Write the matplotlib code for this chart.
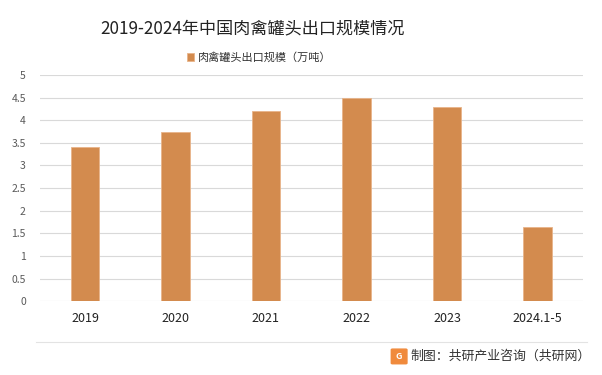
import matplotlib

matplotlib.use("Agg")
import matplotlib.pyplot as plt
from matplotlib.patches import FancyBboxPatch
from matplotlib.lines import Line2D

plt.rcParams["font.family"] = ["Noto Sans CJK SC", "DejaVu Sans"]

# Datos
categories = ["2019", "2020", "2021", "2022", "2023", "2024.1-5"]
values = [3.4, 3.75, 4.2, 4.5, 4.3, 1.65]
yticks = [0, 0.5, 1, 1.5, 2, 2.5, 3, 3.5, 4, 4.5, 5]
ytick_labels = ["0", "0.5", "1", "1.5", "2", "2.5", "3", "3.5", "4", "4.5", "5"]

TITLE = "2019-2024年中国肉禽罐头出口规模情况"
SERIES = "肉禽罐头出口规模（万吨）"
SOURCE = "制图：共研产业咨询（共研网）"
BAR = "#D38B4E"

fig = plt.figure(figsize=(6.02, 3.75), dpi=100)
ax = fig.add_axes([0.066, 0.197, 0.902, 0.603])

x = range(len(categories))
ax.bar(x, values, width=0.31, color=BAR, edgecolor="#E8B48A", linewidth=0.6,
       label=SERIES, zorder=3)

ax.set_ylim(0, 5)
ax.set_xlim(-0.5, len(categories) - 0.5)
ax.set_yticks(yticks)
ax.set_yticklabels(ytick_labels, fontsize=7.5, color="#595959")
ax.set_xticks(list(x))
ax.set_xticklabels(categories, fontsize=9, color="#222222")
ax.tick_params(axis="both", length=0)
ax.tick_params(axis="x", pad=8)
ax.tick_params(axis="y", pad=10)
ax.grid(axis="y", color="#D9D9D9", linewidth=0.8, zorder=0)
for s in ax.spines.values():
    s.set_visible(False)

# título y leyenda desplazados a la izquierda, como en el original
fig.text(0.419, 0.923, TITLE, ha="center", va="center", fontsize=12.3, color="#222222")
fig.legend(loc="center", bbox_to_anchor=(0.43, 0.847), frameon=False,
           fontsize=8, handlelength=0.7, handleheight=0.7, handletextpad=0.3,
           labelcolor="#333333")

# línea separadora y pie de fuente
fig.add_artist(Line2D([0.06, 0.975], [0.088, 0.088], color="#E3E3E3", linewidth=0.8))
logo = FancyBboxPatch((0.652, 0.032), 0.022, 0.035, boxstyle="round,pad=0.002",
                      transform=fig.transFigure, color="#F08A3C")
fig.add_artist(logo)
fig.text(0.663, 0.05, "G", ha="center", va="center", fontsize=6.5, color="white",
         fontweight="bold")
fig.text(0.682, 0.05, SOURCE, ha="left", va="center", fontsize=9.3, color="#333333")

fig.savefig("out.png", dpi=100)
plt.close(fig)
